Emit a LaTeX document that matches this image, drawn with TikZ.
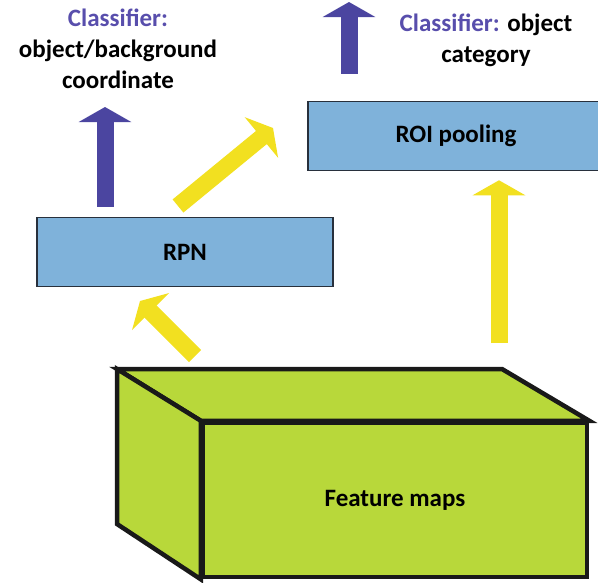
\documentclass[tikz,border=0pt]{standalone}
\usepackage{fontspec}
\setmainfont{Carlito}
\usetikzlibrary{arrows.meta}
\definecolor{clsblue}{RGB}{88,78,172}
\definecolor{uparrow}{RGB}{75,69,160}
\definecolor{flowyellow}{RGB}{242,224,32}
\definecolor{boxblue}{RGB}{127,178,218}
\definecolor{boxedge}{RGB}{40,48,60}
\definecolor{mapgreen}{RGB}{184,216,58}
\begin{document}
\begin{tikzpicture}[x=1pt,y=-1pt,
  font=\fontsize{25}{31}\selectfont\bfseries,
  stage/.style={draw=boxedge,line width=1.5pt,fill=boxblue,minimum width=296pt,minimum height=69pt},
  face/.style={draw=black!90,line width=4.5pt,fill=mapgreen,line join=miter},
  clsarrow/.style={draw=uparrow,line width=17pt,-{Triangle[width=52pt,length=15pt]}},
  flowarrow/.style={draw=flowyellow,line width=17pt,-{Triangle[width=52pt,length=15pt]}}]
\useasboundingbox (0,0) rectangle (598,582);

\node[stage] (rpn) at (185,252) {RPN};
\node[stage] (roi) at (456,136) {ROI pooling};

\node[align=center] (rpncls) at (118,49) {\textcolor{clsblue}{Classifier:}\\object/background\\coordinate};
\node[align=center] (roicls) at (486,40) {\textcolor{clsblue}{Classifier:} object\\category};

\node[face,minimum width=384pt,minimum height=154pt] (fmap) at (395,500) {Feature maps};
\draw[face] (fmap.north west) -- (117,369) -- (502,369) -- (fmap.north east) -- cycle;
\draw[face] (fmap.north west) -- (117,369) -- (117,524) -- (fmap.south west) -- cycle;

\coordinate (rpntip) at (105,107);
\coordinate (roitip) at (349,2);
\coordinate (rpnout) at (178,206);
\coordinate (roiin) at (273,128);
\coordinate (mapout) at (195,356);
\coordinate (rpnin) at (140,301);
\coordinate (roifeed) at (499,343);

\draw[clsarrow,shorten <=10pt] (rpntip |- rpn.north) -- (rpntip);
\draw[clsarrow,shorten <=27pt] (roitip |- roi.north) -- (roitip);
\draw[flowarrow] (rpnout) -- (roiin);
\draw[flowarrow] (mapout) -- (rpnin);
\draw[flowarrow,shorten >=9pt] (roifeed) -- (roifeed |- roi.south);
\end{tikzpicture}
\end{document}
